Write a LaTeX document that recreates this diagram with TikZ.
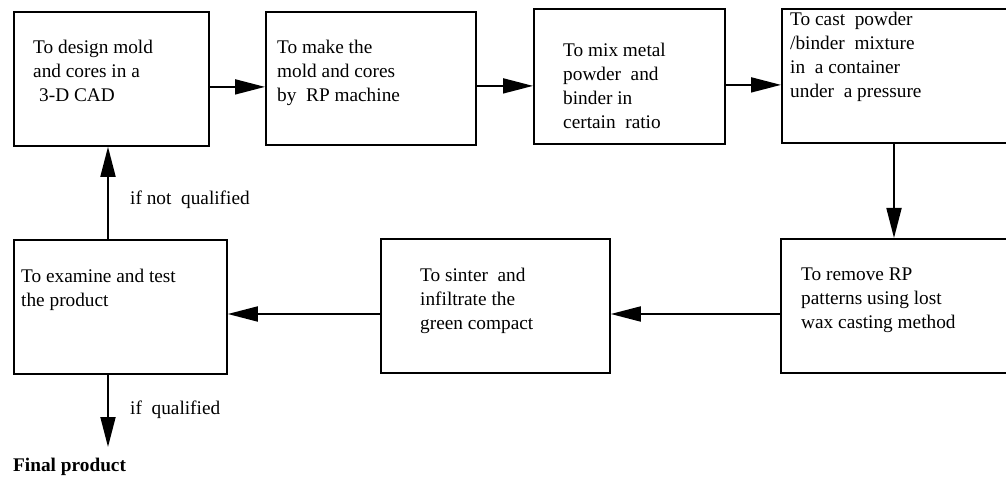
\documentclass[tikz,border=0pt]{standalone}
\usepackage{fontspec}
\setmainfont{Liberation Serif}
\usetikzlibrary{arrows.meta}
\begin{document}
\begin{tikzpicture}[x=1pt,y=-1pt,
  box/.style 2 args={draw, line width=1.8pt, inner sep=0pt, anchor=north west,
    minimum width=#1, minimum height=#2},
  txt/.style={anchor=north west, align=left, inner sep=0pt,
    font=\fontsize{19.3}{24}\selectfont},
  lbl/.style={anchor=base west, inner sep=0pt, font=\fontsize{19.3}{24}\selectfont},
  arr/.style={line width=1.8pt, -{Triangle[length=30pt,width=15pt]}}]
\useasboundingbox (0,0) rectangle (1006,478);
\clip (0,0) rectangle (1006,478);
% boxes
\node[box={195pt}{134pt}] (b1) at (13,11) {};
\node[box={210pt}{133pt}] (b2) at (265,11) {};
\node[box={191pt}{135pt}] (b3) at (533,8) {};
\node[box={240pt}{134pt}] (b4) at (781,8) {};
\node[box={240pt}{134pt}] (b5) at (780,238) {};
\node[box={229pt}{134pt}] (b6) at (380,238) {};
\node[box={213pt}{134pt}] (b7) at (13,239) {};
% texts
\node[txt] (t1) at (33,40) {To design mold\\and cores in a\\\hspace{6pt}3-D CAD};
\node[txt] (t2) at (277,40) {To make the\\mold and cores\\by\ \ RP machine};
\node[txt] (t3) at (563,43) {To mix metal\\powder\ \ and\\binder in\\certain\ \ ratio};
\node[txt] (t4) at (790,12) {To cast\ \ powder\\/binder\ \ mixture\\in\ \ a container\\under\ \ a pressure};
\node[txt] (t5) at (801,268) {To remove RP\\patterns using lost\\wax casting method};
\node[txt] (t6) at (420,268) {To sinter\ \ and\\infiltrate the\\green compact};
\node[txt] (t7) at (21,269) {To examine and test\\the product};
% labels
\node[lbl] (l1) at (130,205) {if not\ \ qualified};
\node[lbl] (l2) at (130,414) {if\ \ qualified};
\node[lbl, font=\fontsize{19.3}{24}\selectfont\bfseries] (fin) at (13,471) {Final product};
% helper coordinates
\coordinate (c45) at (894,0);
\coordinate (c56) at (0,314);
\coordinate (cx) at (108,0);
\coordinate (fend) at (108,447);
% connectors
\draw[arr] ([yshift=-8pt]b1.east) -- ([yshift=-8pt]b1.east -| b2.west);
\draw[arr] ([yshift=-7.5pt]b2.east) -- ([yshift=-7.5pt]b2.east -| b3.west);
\draw[arr] ([yshift=-8.5pt]b3.east) -- ([yshift=-8.5pt]b3.east -| b4.west);
\draw[arr] (b4.south -| c45) -- (b5.north -| c45);
\draw[arr] (b5.west |- c56) -- (b6.east |- c56);
\draw[arr] (b6.west |- c56) -- (b7.east |- c56);
\draw[arr] (b7.north -| cx) -- (b1.south -| cx);
\draw[arr] (b7.south -| cx) -- (fend);
\end{tikzpicture}
\end{document}
